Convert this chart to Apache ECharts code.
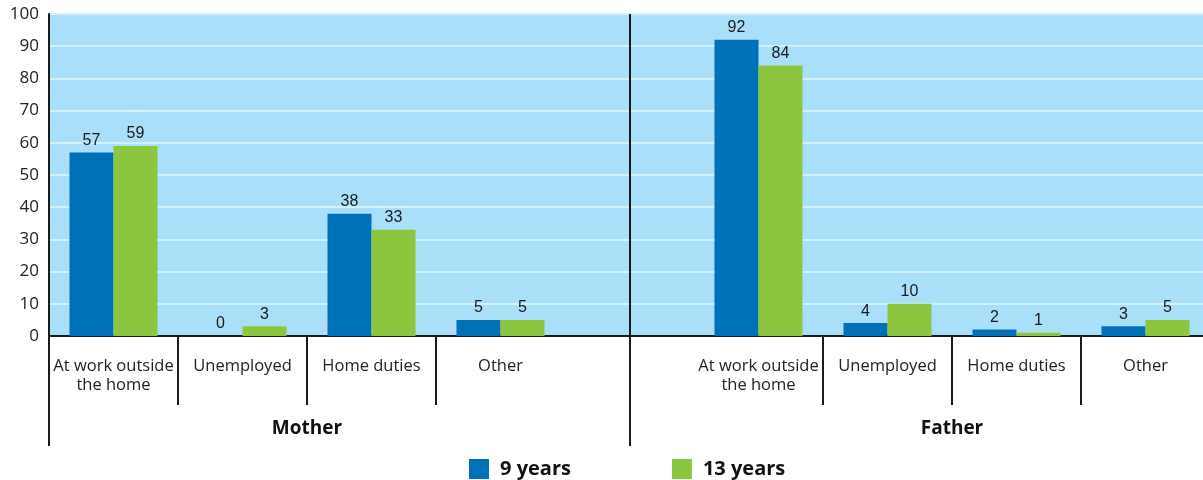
<!DOCTYPE html>
<html>
<head>
<meta charset="utf-8">
<script src="https://cdn.jsdelivr.net/npm/echarts@6/dist/echarts.min.js"></script>
<style>
  html, body { margin: 0; padding: 0; background: #fff; overflow: hidden; }
  /* the plot runs a few pixels past the right edge, as in the original */
  #main { width: 1210px; height: 480px; }
</style>
</head>
<body>
<div id="main"></div>
<script>
// categories per parent, the blank one in the middle is the gap between groups
var jobCategories = ['At work outside\nthe home', 'Unemployed', 'Home duties', 'Other']
var groups = ['Mother', 'Father']
var seriesNames = ['9 years', '13 years']

var mother9 = [57, 0, 38, 5]
var mother13 = [59, 3, 33, 5]
var father9 = [92, 4, 2, 3]
var father13 = [84, 10, 1, 5]

var yTicks = { min: 0, max: 100, interval: 10 }

var categories = jobCategories.concat(['']).concat(jobCategories)
var nine = mother9.concat([null]).concat(father9)
var thirteen = mother13.concat([null]).concat(father13)

var font = '"Open Sans", "Noto Sans", sans-serif'
var numFont = '"Liberation Sans Narrow", "Liberation Sans", sans-serif'
var ink = '#1a1a1a'

var chart = echarts.init(document.getElementById('main'))

var barLabel = {
  show: true,
  position: 'top',
  distance: 4,
  color: ink,
  fontSize: 16,
  fontFamily: numFont
}

// helper axis spanning the same range as the 9 categories
function groupAxis(extra) {
  return Object.assign({
    type: 'value',
    min: -0.5,
    max: 8.5,
    axisLine: { show: false },
    splitLine: { show: false }
  }, extra)
}

var option = {
  animation: false,
  grid: {
    left: 49,
    right: 0,
    top: 14,
    bottom: 144,
    show: true,
    backgroundColor: '#aadff9',
    borderWidth: 0
  },
  legend: {
    left: 469,
    top: 459,
    padding: 0,
    itemWidth: 20,
    itemHeight: 20,
    itemGap: 101,
    icon: 'rect',
    textStyle: { fontSize: 20, fontWeight: 'bold', color: '#111', fontFamily: font, padding: [0, 0, 0, 6] },
    data: seriesNames
  },
  xAxis: [{
    type: 'category',
    data: categories,
    boundaryGap: true,
    axisLine: { show: true, lineStyle: { color: ink, width: 2 } },
    axisTick: {
      show: true,
      length: 69,
      interval: function (index) {
        return [1, 2, 3, 6, 7, 8].indexOf(index) !== -1
      },
      lineStyle: { color: ink, width: 2 }
    },
    axisLabel: {
      interval: 0,
      margin: 21,
      fontSize: 16.5,
      lineHeight: 19,
      color: '#222',
      fontFamily: font,
      verticalAlign: 'top'
    },
    splitLine: { show: false }
  }, groupAxis({
    // Mother / Father with the long divider ticks below the axis
    position: 'bottom',
    axisTick: {
      show: true,
      customValues: [-0.5, 4],
      length: 110,
      lineStyle: { color: ink, width: 2 }
    },
    axisLabel: {
      customValues: [1.5, 6.5],
      margin: 83,
      fontSize: 19,
      fontWeight: 'bold',
      color: '#111',
      fontFamily: font,
      formatter: function (v) {
        return v < 4 ? groups[0] : groups[1]
      }
    }
  }), groupAxis({
    // divider inside the plot between the two groups
    position: 'top',
    axisTick: {
      show: true,
      inside: true,
      customValues: [4],
      length: 322,
      lineStyle: { color: ink, width: 2 }
    },
    axisLabel: { show: false }
  })],
  yAxis: {
    type: 'value',
    min: yTicks.min,
    max: yTicks.max,
    interval: yTicks.interval,
    axisLine: { show: true, onZero: false, lineStyle: { color: ink, width: 2 } },
    axisTick: { show: false },
    axisLabel: { fontSize: 17, color: '#222', fontFamily: font, margin: 10, padding: [7, 0, 0, 0] },
    splitLine: { show: true, lineStyle: { color: '#d3f0fd', width: 2 } }
  },
  series: [{
    name: seriesNames[0],
    type: 'bar',
    data: nine,
    barWidth: 44,
    barGap: '0%',
    itemStyle: { color: '#0070b8' },
    label: barLabel
  }, {
    name: seriesNames[1],
    type: 'bar',
    data: thirteen,
    barWidth: 44,
    barGap: '0%',
    itemStyle: { color: '#8cc63f' },
    label: barLabel
  }]
}

chart.setOption(option)
</script>
</body>
</html>
